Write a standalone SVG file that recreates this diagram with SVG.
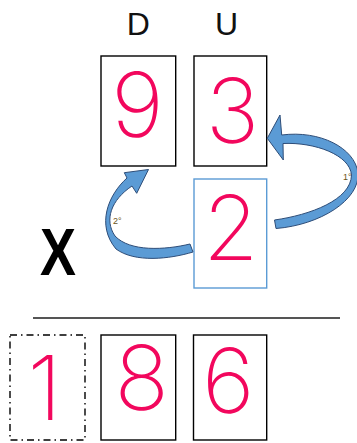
<svg xmlns="http://www.w3.org/2000/svg" width="357" height="443" viewBox="0 0 357 443">
<style>
.box{fill:#fff;stroke:#000;stroke-width:1.4}
.bbox{fill:#fff;stroke:#5b9bd5;stroke-width:1.4}
.dbox{fill:none;stroke:#000;stroke-width:1.4;stroke-dasharray:7,4,1.5,4}
.hd{font-family:"Liberation Sans",Arial,sans-serif;font-size:32px;fill:#111;text-anchor:middle}
.dg{font-family:Inter,Roboto,"Liberation Sans",sans-serif;font-weight:200;font-size:90px;fill:#f2075d;text-anchor:middle}
.arr{fill:#5b9bd5;stroke:#2e4d78;stroke-width:1}
.lbl{font-family:"Liberation Sans",Arial,sans-serif;font-size:9px;fill:#6b5418}
</style>
<rect width="357" height="443" fill="#fff"/>
<g id="headers">
<text class="hd" x="138.3" y="35">D</text>
<text class="hd" x="226.5" y="35">U</text>
</g>
<g id="node-9"><rect class="box" x="101" y="56" width="74.7" height="110"/><text class="dg" x="137.5" y="137">9</text></g>
<g id="node-3"><rect class="box" x="194" y="56" width="72.7" height="110"/><text class="dg" x="232.5" y="143">3</text></g>
<g id="node-2"><rect class="bbox" x="194" y="179" width="72.7" height="109"/><text class="dg" x="230.7" y="260">2</text></g>
<g id="times"><text x="40" y="275" font-family="'Liberation Sans',Arial,sans-serif" font-weight="bold" font-size="66" textLength="36" lengthAdjust="spacingAndGlyphs" fill="#000">X</text></g>
<g id="rule"><line x1="33" y1="318" x2="340" y2="318" stroke="#555" stroke-width="2"/></g>
<g id="node-1"><rect class="dbox" x="10" y="335" width="75" height="105"/><text class="dg" x="44.7" y="420">1</text></g>
<g id="node-8"><rect class="box" x="101" y="335" width="74.7" height="105"/><text class="dg" x="141.7" y="410">8</text></g>
<g id="node-6"><rect class="box" x="193.5" y="335" width="73.2" height="105"/><text class="dg" x="228.3" y="413">6</text></g>
<g id="connectors">
<path class="arr" d="M281.7,135 C320,130 355,148 358,173 C360,200 320,225 276,228.5 L274.5,220 C310,215 351,200 351.5,175 C350,155 315,142 283,143.5 L283.3,160 L267.3,138.3 L280,115 Z"/>
<text class="lbl" x="343" y="180">1°</text>
<path class="arr" d="M127,178 C108,195 96,225 116,249 C135,263 170,259 193,252 L190,244 C165,250 130,252 115,236 C104,220 111,200 132,186 L136.7,193.3 L148.5,169.5 L124.3,172.7 Z"/>
<text class="lbl" x="113" y="224">2°</text>
</g>
</svg>
